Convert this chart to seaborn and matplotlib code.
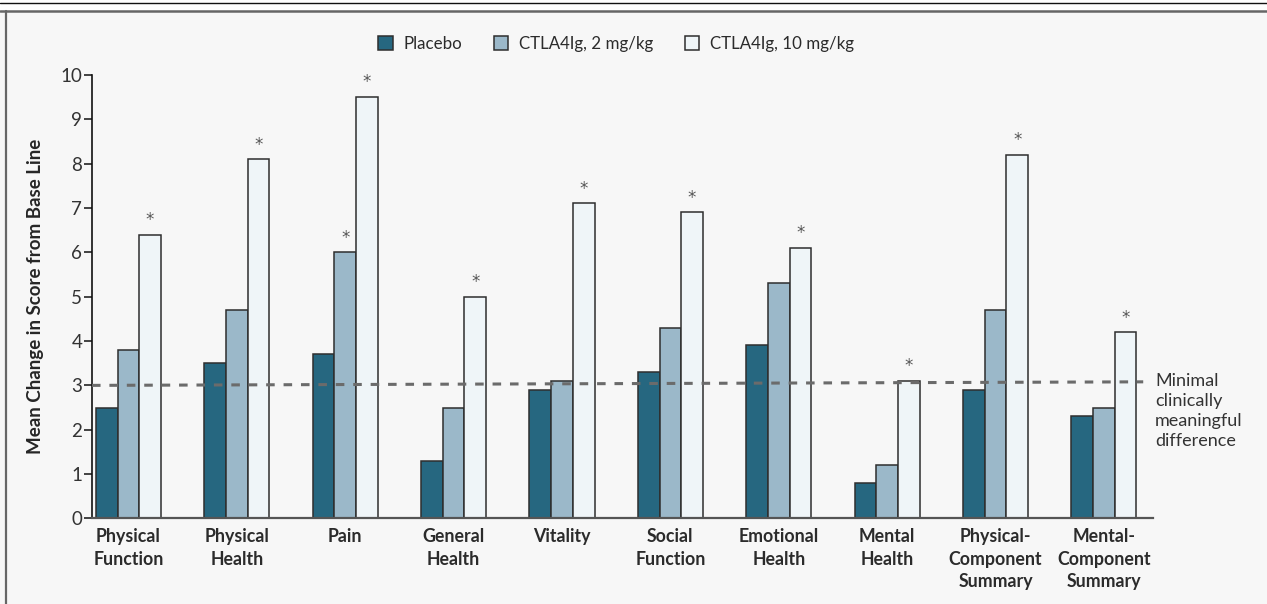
import matplotlib
matplotlib.use("Agg")
import matplotlib.pyplot as plt
from matplotlib.lines import Line2D
from matplotlib.patches import Rectangle
import numpy as np
import pandas as pd
import seaborn as sns

# SF-36 domains and summary scores
categories = [
    "Physical\nFunction", "Physical\nHealth", "Pain", "General\nHealth", "Vitality",
    "Social\nFunction", "Emotional\nHealth", "Mental\nHealth",
    "Physical-\nComponent\nSummary", "Mental-\nComponent\nSummary",
]
groups = ["Placebo", "CTLA4Ig, 2 mg/kg", "CTLA4Ig, 10 mg/kg"]

# Mean change in score from base line
placebo = [2.5, 3.5, 3.7, 1.3, 2.9, 3.3, 3.9, 0.8, 2.9, 2.3]
dose_2 = [3.8, 4.7, 6.0, 2.5, 3.1, 4.3, 5.3, 1.2, 4.7, 2.5]
dose_10 = [6.4, 8.1, 9.5, 5.0, 7.1, 6.9, 6.1, 3.1, 8.2, 4.2]

# Significant differences versus placebo (marked with *)
sig_placebo = [False] * 10
sig_dose_2 = [False, False, True, False, False, False, False, False, False, False]
sig_dose_10 = [True] * 10

# Minimal clinically meaningful difference reference line (start, end)
mcid = [3.0, 3.08]
mcid_label = "Minimal\nclinically\nmeaningful\ndifference"

y_ticks = list(range(0, 11))
y_label = "Mean Change in Score from Base Line"

colors = ["#266780", "#9bb8c9", "#eff5f8"]
bg = "#f7f7f7"
ink = "#2b2b2b"

df = pd.DataFrame({
    "Domain": np.tile(categories, len(groups)),
    "Group": np.repeat(groups, len(categories)),
    "Change": placebo + dose_2 + dose_10,
})

sns.set_theme(style="white")
plt.rcParams["font.family"] = ["Lato", "DejaVu Sans"]
plt.rcParams["text.color"] = ink

fig = plt.figure(figsize=(12.67, 6.04), dpi=100, facecolor=bg)
ax = fig.add_axes([0.0726, 0.1416, 0.8374, 0.7345])
ax.set_facecolor(bg)

sns.barplot(
    data=df, x="Domain", y="Change", hue="Group", hue_order=groups,
    palette=colors, saturation=1, width=0.6, errorbar=None,
    edgecolor="#2e2e2e", linewidth=1.1, ax=ax,
)

ax.set_xlim(-0.336, 9.452)
ax.set_ylim(0, 10)

# Significance markers
for container, flags in zip(ax.containers, [sig_placebo, sig_dose_2, sig_dose_10]):
    for bar, flag in zip(container, flags):
        if flag:
            ax.annotate("*", (bar.get_x() + bar.get_width() / 2, bar.get_height()),
                        xytext=(0, 4), textcoords="offset points",
                        ha="center", va="bottom", fontsize=12, color="#555555",
                        family="DejaVu Sans")

# Reference line
x0, x1 = ax.get_xlim()
x_end = x1 - 0.09
ax.plot([x0, x_end], mcid, color="#6b6b6b", lw=2.2, dashes=(2.8, 2.9),
        zorder=5, clip_on=False)
ax.text(x1 + 0.02, mcid[1] + 0.2, mcid_label, ha="left", va="top",
        fontsize=13, color="#333333", linespacing=1.3, clip_on=False)

# Axes styling
for side in ("top", "right"):
    ax.spines[side].set_visible(False)
ax.spines["left"].set_color("#111111")
ax.spines["left"].set_linewidth(1.2)
ax.spines["bottom"].set_color("#555555")
ax.spines["bottom"].set_linewidth(1.6)

ax.set_yticks(y_ticks)
ax.set_yticklabels([str(t) for t in y_ticks])
ax.tick_params(axis="y", direction="out", length=6, width=1.1, color="#111111",
               labelsize=13.5, labelcolor="#333333", pad=1, left=True)
ax.tick_params(axis="x", length=0, pad=7, labelsize=12.8, labelcolor="#2b2b2b")
for lbl in ax.get_xticklabels():
    lbl.set_fontweight("bold")
    lbl.set_linespacing(1.4)

ax.set_xlabel("")
ax.set_ylabel(y_label, fontsize=13.5, fontweight="bold", labelpad=12)

# Legend across the top
handles, labels = ax.get_legend_handles_labels()
ax.get_legend().remove()
fig.legend(handles, labels, loc="center", bbox_to_anchor=(616 / 1267, 0.927),
           ncol=3, frameon=False, fontsize=12.2, handlelength=0.85, handleheight=0.85,
           handletextpad=0.6, columnspacing=1.9)

# Panel frame: white strip with double rule on top, rule down the left side
fig.add_artist(Rectangle((0, 1 - 11 / 604), 1, 11 / 604, transform=fig.transFigure,
                         facecolor="white", edgecolor="none", zorder=0))
fig.add_artist(Line2D([0, 1], [1 - 3 / 604] * 2, transform=fig.transFigure,
                      color="#111111", lw=1.0))
fig.add_artist(Line2D([0, 1], [1 - 11 / 604] * 2, transform=fig.transFigure,
                      color="#666666", lw=1.8))
fig.add_artist(Line2D([6 / 1267] * 2, [0, 1 - 11 / 604], transform=fig.transFigure,
                      color="#666666", lw=1.6))

fig.savefig("out.png", dpi=100, facecolor=bg)
